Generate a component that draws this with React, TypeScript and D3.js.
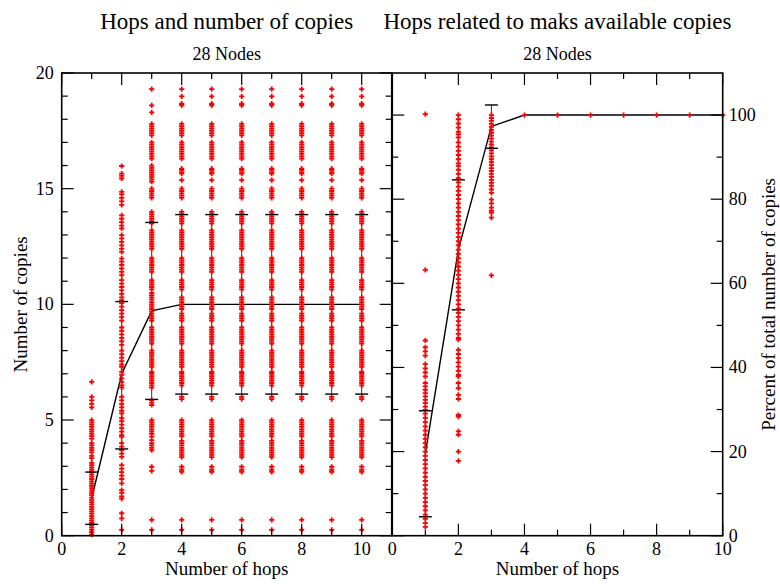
import React from 'react';
import * as d3 from 'd3';

const W = 780, H = 584;
const FONT = '"Liberation Serif", "Times New Roman", serif';

const hops = [1, 2, 3, 4, 5, 6, 7, 8, 9, 10];

// left panel: number of copies per hop (columns 4..10 look identical)
const copiesHop1 = [6.65, 6.0, 5.85, 5.7, 5.55, 5.0, 4.9, 4.8, 4.7, 4.6, 4.5, 4.4, 4.3, 4.2, 4.0, 3.9, 3.8, 3.7, 3.6, 3.45, 3.35,
  3.15, 3.05, 2.95, 2.85, 2.75, 2.65, 2.55, 2.45, 2.35, 2.25, 2.15, 2.05, 1.95, 1.85, 1.75, 1.65, 1.55, 1.45, 1.35, 1.25,
  1.15, 1.05, 0.95, 0.85, 0.75, 0.65, 0.55, 0.45, 0.35, 0.25, 0.15, 0.05];
const copiesHop2 = [15.98, 15.65, 15.55, 15.44, 14.86, 14.75, 14.6, 14.45, 14.3, 13.85, 13.7, 13.55, 13.4, 13.28, 12.99,
  12.85, 12.7, 12.55, 12.4, 12.27, 11.98, 11.85, 11.7, 11.55, 11.4, 11.26, 11.05, 10.9, 10.75, 10.6, 10.45, 10.3, 10.18,
  10.05, 9.9, 9.75, 9.6, 9.45, 9.3, 9.0, 8.85, 8.7, 8.55, 8.4, 8.25, 8.0, 7.85, 7.7, 7.55, 7.4, 7.3, 7.08, 6.95, 6.8, 6.65,
  6.5, 6.4, 6.0, 5.85, 5.7, 5.55, 5.4, 5.29, 5.08, 4.95, 4.8, 4.65, 4.5, 4.35, 4.28, 4.0, 3.85, 3.7, 3.55, 3.41, 3.05, 2.9,
  2.75, 2.6, 2.45, 2.26, 1.97, 1.85, 1.7, 1.6, 0.97, 0.75, 0.25];
const copiesHop3 = [19.3, 18.6, 18.3, 17.8, 17.7, 17.6, 17.5, 17.4, 17.3, 17.0, 16.9, 16.8, 16.7, 16.6, 16.5, 16.4, 16.3,
  16.0, 15.9, 15.8, 15.7, 15.6, 15.5, 15.4, 15.3, 15.0, 14.9, 14.8, 14.7, 14.6, 14.0, 13.9, 13.8, 13.7, 13.6, 13.5, 13.2,
  13.1, 13.0, 12.9, 12.8, 12.7, 12.6, 12.5, 12.4, 12.0, 11.9, 11.8, 11.7, 11.6, 11.5, 11.4, 11.05, 10.95, 10.85, 10.75,
  10.65, 10.5, 10.4, 10.3, 10.2, 10.1, 10.0, 9.9, 9.8, 9.7, 9.6, 9.5, 9.4, 9.3, 9.0, 8.9, 8.8, 8.7, 8.6, 8.5, 8.4, 8.3,
  8.0, 7.9, 7.8, 7.7, 7.6, 7.5, 7.4, 7.3, 7.08, 7.0, 6.9, 6.8, 6.7, 6.6, 6.5, 6.4, 5.86, 5.75, 5.65, 5.0, 4.9, 4.8, 4.7,
  4.6, 4.5, 4.4, 4.28, 4.13, 4.0, 3.9, 3.8, 3.7, 2.98, 2.8, 0.68, 0.25];
const copiesHop4to10 = [19.3, 18.99, 18.68, 18.6, 17.8, 17.7, 17.6, 17.5, 17.4, 17.3, 17.0, 16.9, 16.8, 16.7, 16.6, 16.5,
  16.4, 16.3, 15.87, 15.8, 15.7, 15.65, 15.37, 15.0, 14.9, 14.8, 14.7, 14.6, 14.0, 13.9, 13.8, 13.7, 13.6, 13.5, 13.2,
  13.1, 13.0, 12.9, 12.8, 12.7, 12.6, 12.5, 12.4, 12.0, 11.9, 11.8, 11.7, 11.6, 11.5, 11.4, 11.05, 10.95, 10.85, 10.75,
  10.65, 10.3, 10.2, 10.1, 10.0, 9.9, 9.8, 9.6, 9.5, 9.4, 9.3, 9.0, 8.9, 8.8, 8.7, 8.6, 8.5, 8.4, 8.3, 8.0, 7.9, 7.8, 7.7,
  7.6, 7.5, 7.4, 7.3, 7.08, 7.0, 6.9, 6.8, 6.7, 6.6, 6.5, 6.0, 5.9, 5.0, 4.9, 4.8, 4.7, 4.6, 4.5, 4.4, 4.3, 4.1, 4.0, 3.9,
  3.8, 3.7, 3.6, 3.5, 3.4, 2.98, 2.85, 2.76, 0.68, 0.25];
const copiesMean = [1.62, 7.0, 9.72, 10, 10, 10, 10, 10, 10, 10];
const copiesLow = [0.49, 3.75, 5.89, 6.12, 6.12, 6.12, 6.12, 6.12, 6.12, 6.12];
const copiesHigh = [2.75, 10.12, 13.54, 13.88, 13.88, 13.88, 13.88, 13.88, 13.88, 13.88];

// right panel: percent of total number of copies per hop
const pctHop1 = [100.2, 63.2, 46.4, 44.8, 43.8, 42.8, 40.8, 39.8, 38.8, 37.9, 36.3, 35.5, 34.7, 33.9, 33.1, 32.3, 31.5,
  30.7, 29.9, 29, 28, 27, 26, 25, 24, 23, 22, 21, 20, 19, 18, 17, 16, 15, 14, 13, 12, 11, 10, 9, 8, 7, 6, 5, 4, 3, 2.1];
const pctHop2 = [100, 99, 98, 97, 96, 95.4, 94.7, 93.5, 92.5, 91.5, 90.5, 89.5, 88.5, 87.9, 87, 86, 85, 84, 83, 82, 81,
  80, 79, 78, 77, 76, 75, 74, 73, 72, 71, 70, 69, 68, 67, 66, 65, 64, 63, 62, 61, 60, 59, 58, 57, 56, 55, 54, 53, 52, 51,
  50, 49, 48, 47, 46.6, 44.2, 43.2, 42.2, 41.2, 40.2, 39.2, 38.2, 37.9, 36.3, 35.1, 33.5, 32.5, 28.7, 28.3, 24.8, 24.0,
  20.0, 17.8];
const pctHop3 = [100, 99.3, 98.6, 97.9, 97.2, 96.5, 95.8, 95.1, 94.4, 93.7, 93, 92.3, 91.6, 90.9, 90.2, 89.5, 88.8, 88.1,
  87.4, 86.7, 86, 85.3, 84.6, 83.9, 83.2, 82.3, 81.5, 79.9, 79.0, 78.0, 77.3, 76.8, 75.6, 61.9];
const pctHop4to10 = [100];
const pctMean = [19.5, 68, 97.3, 100, 100, 100, 100, 100, 100, 100];
const pctLow = [4.5, 53.7, 92.1, null, null, null, null, null, null, null];
const pctHigh = [29.7, 84.6, 102.4, null, null, null, null, null, null, null];

const copiesColumns = hops.map((h, i) => ({
  hop: h,
  values: i === 0 ? copiesHop1 : i === 1 ? copiesHop2 : i === 2 ? copiesHop3 : copiesHop4to10,
}));
const pctColumns = hops.map((h, i) => ({
  hop: h,
  values: i === 0 ? pctHop1 : i === 1 ? pctHop2 : i === 2 ? pctHop3 : pctHop4to10,
}));

const TOP = 73, BOTTOM = 535.7;

function Panel({ x, y, columns, mean, low, high, xMajor, xMinor, yMajor, yMinor, yLabelsRight, title, yTitle }) {
  const [x0, x1] = x.range();
  const MAJ = 12, MIN = 6;
  const line = d3.line<number>().x((_, i) => x(hops[i])).y(d => y(d));
  const mid = (x0 + x1) / 2;
  const marker = (cx, cy) => `M${cx - 2.6},${cy}H${cx + 2.6}M${cx},${cy - 2.6}V${cy + 2.6}`;
  return (
    <g>
      {/* error bar stems */}
      {hops.map((h, i) => low[i] == null ? null : (
        <line key={'s' + h} x1={x(h)} x2={x(h)} y1={y(low[i])} y2={y(high[i])} stroke="#333" strokeWidth={1} />
      ))}
      <path d={line(mean) || ''} fill="none" stroke="#000" strokeWidth={1.4} />
      {columns.map(c => (
        <path key={'c' + c.hop} d={c.values.map(v => marker(x(c.hop), y(v))).join('')}
          stroke="#ff0000" strokeWidth={1.8} fill="none" />
      ))}
      {hops.map((h, i) => low[i] == null ? null : (
        <g key={'e' + h}>
          <line x1={x(h) - 6.5} x2={x(h) + 6.5} y1={y(low[i])} y2={y(low[i])} stroke="#000" strokeWidth={1.4} />
          <line x1={x(h) - 6.5} x2={x(h) + 6.5} y1={y(high[i])} y2={y(high[i])} stroke="#000" strokeWidth={1.4} />
        </g>
      ))}
      {/* frame */}
      <rect x={x0} y={TOP} width={x1 - x0} height={BOTTOM - TOP} fill="none" stroke="#000" strokeWidth={1.6} />
      {/* ticks */}
      <g stroke="#000" strokeWidth={1.2}>
        {xMajor.concat(xMinor).map(t => {
          const len = xMajor.includes(t) ? MAJ : MIN;
          return (
            <g key={'xt' + t}>
              <line x1={x(t)} x2={x(t)} y1={BOTTOM} y2={BOTTOM - len} />
              <line x1={x(t)} x2={x(t)} y1={TOP} y2={TOP + len} />
            </g>
          );
        })}
        {yMajor.concat(yMinor).map(t => {
          const len = yMajor.includes(t) ? MAJ : MIN;
          return (
            <g key={'yt' + t}>
              <line x1={x0} x2={x0 + len} y1={y(t)} y2={y(t)} />
              <line x1={x1} x2={x1 - len} y1={y(t)} y2={y(t)} />
            </g>
          );
        })}
      </g>
      {/* tick labels */}
      <g fontFamily={FONT} fontSize={18} fill="#000">
        {xMajor.map(t => (
          <text key={'xl' + t} x={x(t)} y={555} textAnchor="middle">{t}</text>
        ))}
        {yMajor.map(t => (
          <text key={'yl' + t} x={yLabelsRight ? x1 + 6 : x0 - 8} y={y(t) + 6}
            textAnchor={yLabelsRight ? 'start' : 'end'}>{t}</text>
        ))}
      </g>
      <text x={mid} y={575} textAnchor="middle" fontFamily={FONT} fontSize={19}>Number of hops</text>
      <text x={mid} y={29} textAnchor="middle" fontFamily={FONT} fontSize={23}>{title}</text>
      <text x={mid} y={60} textAnchor="middle" fontFamily={FONT} fontSize={18}>28 Nodes</text>
      {yLabelsRight ? (
        <text transform={`translate(775,${(TOP + BOTTOM) / 2}) rotate(-90)`} textAnchor="middle"
          fontFamily={FONT} fontSize={19}>{yTitle}</text>
      ) : (
        <text transform={`translate(27,${(TOP + BOTTOM) / 2}) rotate(-90)`} textAnchor="middle"
          fontFamily={FONT} fontSize={19}>{yTitle}</text>
      )}
    </g>
  );
}

export default function App() {
  const xL = d3.scaleLinear().domain([0, 11]).range([61.7, 391.7]);
  const yL = d3.scaleLinear().domain([0, 20]).range([BOTTOM, TOP]);
  const xR = d3.scaleLinear().domain([0, 10]).range([392.3, 722.7]);
  const yR = d3.scaleLinear().domain([0, 110]).range([BOTTOM, TOP]);

  const lxMajor = xL.ticks(5);
  const lxMinor = xL.ticks(11).filter(t => !lxMajor.includes(t) && t > 0 && t < 11);
  const lyMajor = yL.ticks(4);
  const lyMinor = yL.ticks(20).filter(t => !lyMajor.includes(t));
  const rxMajor = xR.ticks(5);
  const rxMinor = xR.ticks(10).filter(t => !rxMajor.includes(t));
  const ryMajor = yR.ticks(5).filter(t => t <= 100);
  const ryMinor = yR.ticks(11).filter(t => !ryMajor.includes(t) && t < 110);

  return (
    <svg width={W} height={H} style={{ position: 'absolute', left: 0, top: 0, background: '#fff' }}>
      <rect width={W} height={H} fill="#fff" />
      <Panel x={xL} y={yL} columns={copiesColumns} mean={copiesMean} low={copiesLow} high={copiesHigh}
        xMajor={lxMajor} xMinor={lxMinor} yMajor={lyMajor} yMinor={lyMinor} yLabelsRight={false}
        title="Hops and number of copies" yTitle="Number of copies" />
      <Panel x={xR} y={yR} columns={pctColumns} mean={pctMean} low={pctLow} high={pctHigh}
        xMajor={rxMajor} xMinor={rxMinor} yMajor={ryMajor} yMinor={ryMinor} yLabelsRight={true}
        title="Hops related to maks available copies" yTitle="Percent of total number of copies" />
    </svg>
  );
}
